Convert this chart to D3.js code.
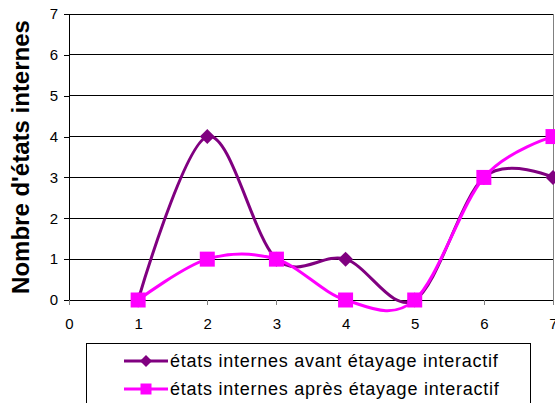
<!DOCTYPE html>
<html><head><meta charset="utf-8">
<script src="https://cdn.jsdelivr.net/npm/d3@7"></script>
<style>body{margin:0;background:#fff}svg{display:block;font-family:"Liberation Sans",Arial,sans-serif}</style>
</head><body>
<svg id="c" width="555" height="403"></svg>
<script>
const xValues = [1, 2, 3, 4, 5, 6, 7];
const avant = [0, 4, 1, 1, 0, 3, 3];
const apres = [0, 1, 1, 0, 0, 3, 4];
const seriesNames = ["états internes avant étayage interactif", "états internes après étayage interactif"];
const seriesColors = ["#800080", "#FF00FF"];
const xTicks = [0, 1, 2, 3, 4, 5, 6, 7];
const yTicks = [0, 1, 2, 3, 4, 5, 6, 7];
const yTitle = "Nombre d'états internes";

const svg = d3.select("#c");
const L = 69, R = 553, T = 14, B = 300;
const x = d3.scaleLinear().domain([0, 7]).range([L, R]);
const y = d3.scaleLinear().domain([0, 7]).range([B, T]);

// gridlines
svg.append("g").selectAll("line").data(yTicks.filter(d => d > 0)).join("line")
  .attr("x1", L).attr("x2", R).attr("y1", d => y(d)).attr("y2", d => y(d))
  .attr("stroke", "#000").attr("stroke-width", 1).attr("shape-rendering", "crispEdges");
// right border
svg.append("line").attr("x1", R).attr("x2", R).attr("y1", T).attr("y2", B)
  .attr("stroke", "#808080").attr("shape-rendering", "crispEdges");

// axes
const yAxis = d3.axisLeft(y).tickValues(yTicks).tickSize(5).tickPadding(6).tickFormat(d3.format("d"));
const gy = svg.append("g").attr("transform", `translate(${L},0)`).call(yAxis);
const xAxis = d3.axisBottom(x).tickValues(xTicks).tickSize(5).tickPadding(13).tickFormat(d3.format("d"));
const gx = svg.append("g").attr("transform", `translate(0,${B})`).call(xAxis);
[gy, gx].forEach(g => {
  g.select(".domain").attr("stroke", "#000").attr("shape-rendering", "crispEdges");
  g.selectAll(".tick line").attr("stroke", "#000").attr("shape-rendering", "crispEdges");
  g.selectAll("text").attr("font-size", 15).attr("fill", "#000").attr("font-family", "Liberation Sans, Arial, sans-serif");
});
gx.selectAll(".tick line").attr("stroke", "#808080");

// y title
svg.append("text").attr("transform", `translate(29,157) rotate(-90)`)
  .attr("text-anchor", "middle").attr("font-size", 24).attr("font-weight", "bold")
  .text(yTitle);

// lines
const curve = d3.curveCardinal.tension(0);
const line = d3.line().x((d, i) => x(xValues[i])).y(d => y(d)).curve(curve);
const data = [avant, apres];
data.forEach((s, k) => {
  svg.append("path").datum(s).attr("d", line).attr("fill", "none")
    .attr("stroke", seriesColors[k]).attr("stroke-width", 3);
});
const diamondPath = d3.symbol().type(d3.symbolSquare).size(112);
const square = d3.symbol().type(d3.symbolSquare).size(225);
// markers
svg.append("g").selectAll("path").data(avant).join("path")
  .attr("d", diamondPath).attr("transform", (d, i) => `translate(${x(xValues[i])},${y(d)}) rotate(45)`)
  .attr("fill", seriesColors[0]);
svg.append("g").selectAll("path").data(apres).join("path")
  .attr("transform", (d, i) => `translate(${x(xValues[i])},${y(d)})`)
  .attr("d", square).attr("fill", seriesColors[1]);

// legend
const lg = svg.append("g");
lg.append("rect").attr("x", 86.5).attr("y", 343.5).attr("width", 444).attr("height", 80)
  .attr("fill", "#fff").attr("stroke", "#000").attr("stroke-width", 1);
seriesNames.forEach((n, k) => {
  const cy = 361 + k * 28;
  lg.append("line").attr("x1", 124).attr("x2", 168).attr("y1", cy).attr("y2", cy)
    .attr("stroke", seriesColors[k]).attr("stroke-width", 3);
  if (k === 0) {
    lg.append("path").attr("d", d3.symbol().type(d3.symbolSquare).size(72)())
      .attr("transform", `translate(146,${cy}) rotate(45)`).attr("fill", seriesColors[0]);
  } else {
    lg.append("path").attr("d", d3.symbol().type(d3.symbolSquare).size(121)()).attr("transform", `translate(146,${cy})`).attr("fill", seriesColors[1]);
  }
  lg.append("text").attr("x", 170).attr("y", cy + 6).attr("font-size", 18).attr("letter-spacing", 0.75).text(n);
});
</script>
</body></html>
